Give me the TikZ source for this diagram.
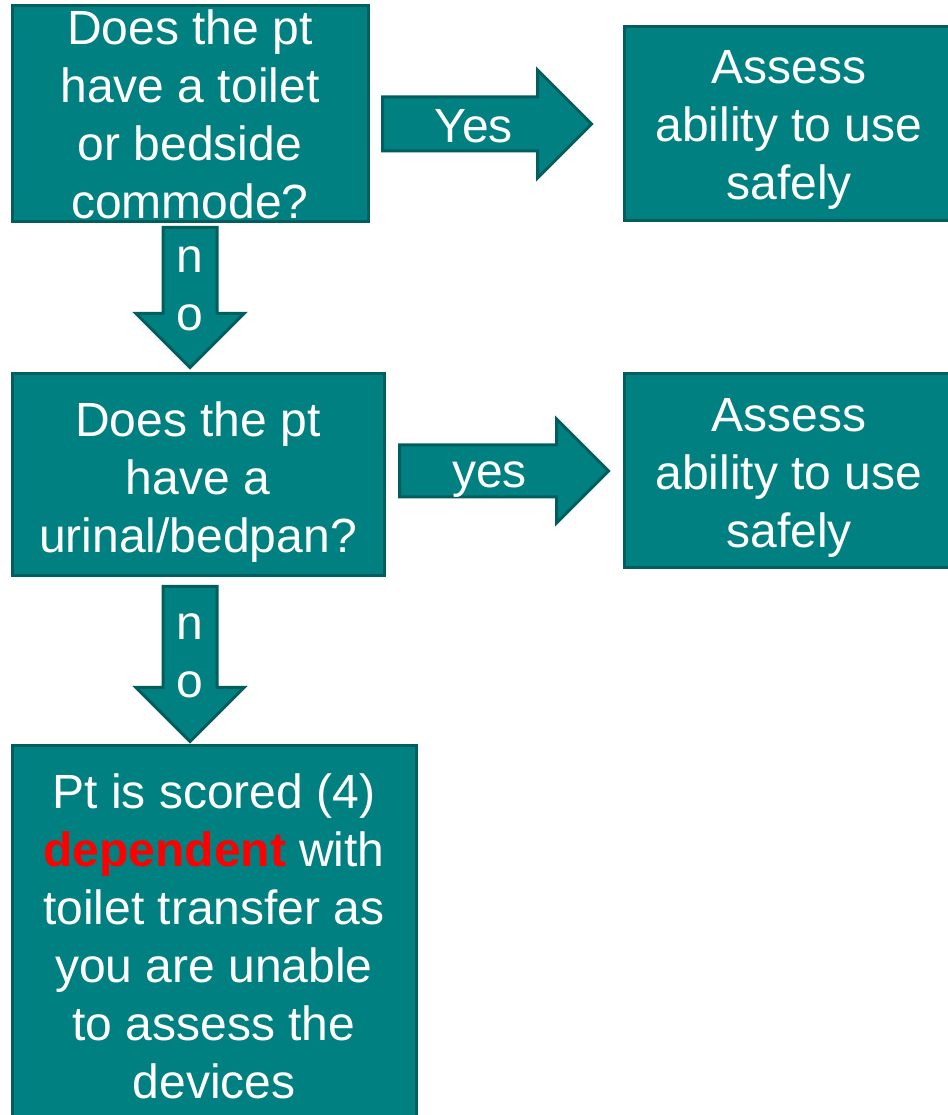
\documentclass[tikz,border=0pt]{standalone}
\usepackage{fontspec}
\setmainfont{Liberation Sans}
\usetikzlibrary{calc}
\definecolor{tealfill}{RGB}{0,128,128}
\definecolor{tealedge}{RGB}{0,94,94}
\newcommand{\drawBlockArrow}[4]{%
    \pgfmathsetmacro{\headw}{2*#4}%
    \pgfmathsetmacro{\neck}{#2-\headw}%
    \begin{scope}[shift={(#1)}, rotate=#3]
        \draw[blockarrow] (0,-#4) -- (\neck,-#4) -- (\neck,-\headw) -- (#2,0)
            -- (\neck,\headw) -- (\neck,#4) -- (0,#4) -- cycle;
    \end{scope}
}

\begin{document}
\begin{tikzpicture}[x=1pt, y=1pt,
    every node/.style={font=\fontsize{48}{58}\selectfont, text=white},
    box/.style={draw=tealedge, line width=3pt, fill=tealfill, align=center, inner sep=0pt},
    blockarrow/.style={draw=tealedge, line width=3pt, fill=tealfill, line join=miter},
    lbl/.style={align=center, inner sep=0pt}]
\useasboundingbox (0,0) rectangle (947,1115);

\node[box, minimum width=356, minimum height=216] (q1) at (190,1001) {Does the pt\\have a toilet\\or bedside\\commode?};
\node[box, minimum width=330, minimum height=194] (r1) at (789,991) {};
\node[lbl] (r1t) at ($(r1)+(0,-6)$) {Assess\\ability to use\\safely};
\node[box, minimum width=372, minimum height=202] (q2) at (198,640) {};
\node[lbl] (q2t) at ($(q2)+(0,-7)$) {Does the pt\\have a\\urinal/bedpan?};
\node[box, minimum width=330, minimum height=194] (r2) at (789,644) {};
\node[lbl] (r2t) at ($(r2)+(0,-7)$) {Assess\\ability to use\\safely};
\node[box, minimum width=404, minimum height=380] (q3) at (214,179) {Pt is scored (4)\\\textcolor{red}{\textbf{dependent}} with\\toilet transfer as\\you are unable\\to assess the\\devices};

% block arrows
\coordinate (a1s) at ($(q1.east |- r1.west)+(13,0)$);
\coordinate (a2s) at ($(q2.east |- r2.west)+(14,0)$);
\coordinate (a3s) at ($(q1.south)+(0,-4)$);
\coordinate (a4s) at ($(q1.south |- q2.south)+(0,-9)$);
\drawBlockArrow{a1s}{209}{0}{27}
\drawBlockArrow{a2s}{209}{0}{26}
\drawBlockArrow{a3s}{140}{-90}{27}
\drawBlockArrow{a4s}{155}{-90}{27}

\node[lbl] (yes1) at ($(a1s)+(91,-2)$) {Yes};
\node[lbl] (yes2) at ($(a2s)+(90,-9)$) {yes};
\node[lbl] (no1) at ($(a3s)+(0,-61)$) {n\\o};
\node[lbl] (no2) at ($(a4s)+(0,-69)$) {n\\o};
\end{tikzpicture}
\end{document}
